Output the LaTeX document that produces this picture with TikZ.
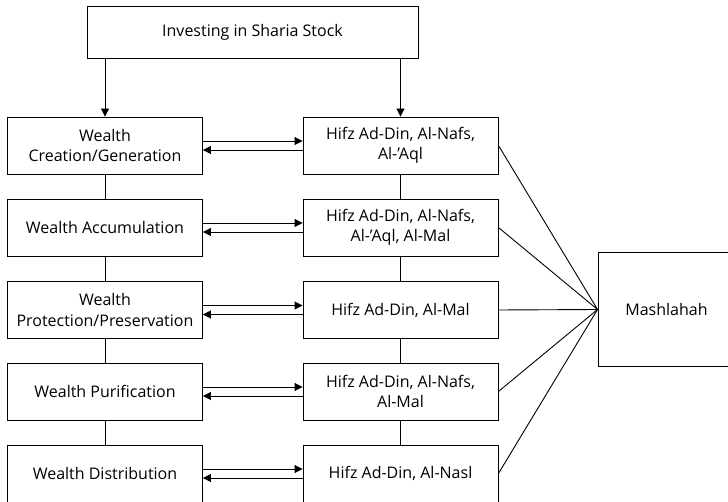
\documentclass[tikz,border=0pt]{standalone}
\usepackage{fontspec}
\setmainfont{Open Sans}
\usetikzlibrary{arrows.meta}

\begin{document}
\begin{tikzpicture}[x=1pt,y=-1pt]
              \tikzstyle{every node}+=[inner sep=0pt]
              \tikzstyle{box}=[draw, line width=0.9pt, minimum width=195pt, minimum height=57pt, align=center, font=\fontsize{16}{20.5}\selectfont]
              \tikzstyle{tip}=[line width=0.9pt, -{Triangle[length=8pt,width=8pt]}]
              \useasboundingbox (0,0) rectangle (728,502);
              \node [box, minimum width=331pt, minimum height=52pt] (invest) at (252.5,32) {Investing in Sharia Stock};
              \node [box] (create) at (105,145.5) {Wealth\\Creation/Generation};
              \node [box] (accum) at (105,227.5) {Wealth Accumulation};
              \node [box] (protect) at (105,310) {Wealth\\Protection/Preservation};
              \node [box] (purify) at (105,391.5) {Wealth Purification};
              \node [box] (distrib) at (105,473.5) {Wealth Distribution};
              \node [box] (hcreate) at (400.5,145.5) {Hifz Ad-Din, Al-Nafs,\\Al-’Aql};
              \node [box] (haccum) at (400.5,227.5) {Hifz Ad-Din, Al-Nafs,\\Al-’Aql, Al-Mal};
              \node [box] (hprotect) at (400.5,310) {Hifz Ad-Din, Al-Mal};
              \node [box] (hpurify) at (400.5,391.5) {Hifz Ad-Din, Al-Nafs,\\Al-Mal};
              \node [box] (hdistrib) at (400.5,473.5) {Hifz Ad-Din, Al-Nasl};
              \node [box, minimum width=137pt, minimum height=114pt] (mash) at (666.5,309.5) {Mashlahah};
              % from the top box
              \draw [tip] (invest.south -| create.north) -- (create.north);
              \draw [tip] (invest.south -| hcreate.north) -- (hcreate.north);
              % left column
              \draw [line width=0.9pt] (create) -- (accum);
              \draw [line width=0.9pt] (accum) -- (protect);
              \draw [line width=0.9pt] (protect) -- (purify);
              \draw [line width=0.9pt] (purify) -- (distrib);
              % right column
              \draw [line width=0.9pt] (hcreate) -- (haccum);
              \draw [line width=0.9pt] (haccum) -- (hprotect);
              \draw [line width=0.9pt] (hprotect) -- (hpurify);
              \draw [line width=0.9pt] (hpurify) -- (hdistrib);
              % both ways
              \draw [tip] ([yshift=4.5pt]create.east) -- ([yshift=4.5pt]hcreate.west);
              \draw [tip] ([yshift=-4.5pt]hcreate.west) -- ([yshift=-4.5pt]create.east);
              \draw [tip] ([yshift=4.5pt]accum.east) -- ([yshift=4.5pt]haccum.west);
              \draw [tip] ([yshift=-4.5pt]haccum.west) -- ([yshift=-4.5pt]accum.east);
              \draw [tip] ([yshift=4.5pt]protect.east) -- ([yshift=4.5pt]hprotect.west);
              \draw [tip] ([yshift=-4.5pt]hprotect.west) -- ([yshift=-4.5pt]protect.east);
              \draw [tip] ([yshift=4.5pt]purify.east) -- ([yshift=4.5pt]hpurify.west);
              \draw [tip] ([yshift=-4.5pt]hpurify.west) -- ([yshift=-4.5pt]purify.east);
              \draw [tip] ([yshift=4.5pt]distrib.east) -- ([yshift=4.5pt]hdistrib.west);
              \draw [tip] ([yshift=-4.5pt]hdistrib.west) -- ([yshift=-4.5pt]distrib.east);
              % to mashlahah
              \draw [line width=0.9pt] (hcreate.east) -- (mash.west);
              \draw [line width=0.9pt] (haccum.east) -- (mash.west);
              \draw [line width=0.9pt] (hprotect.east) -- (mash.west);
              \draw [line width=0.9pt] (hpurify.east) -- (mash.west);
              \draw [line width=0.9pt] (hdistrib.east) -- (mash.west);
\end{tikzpicture}
\end{document}
